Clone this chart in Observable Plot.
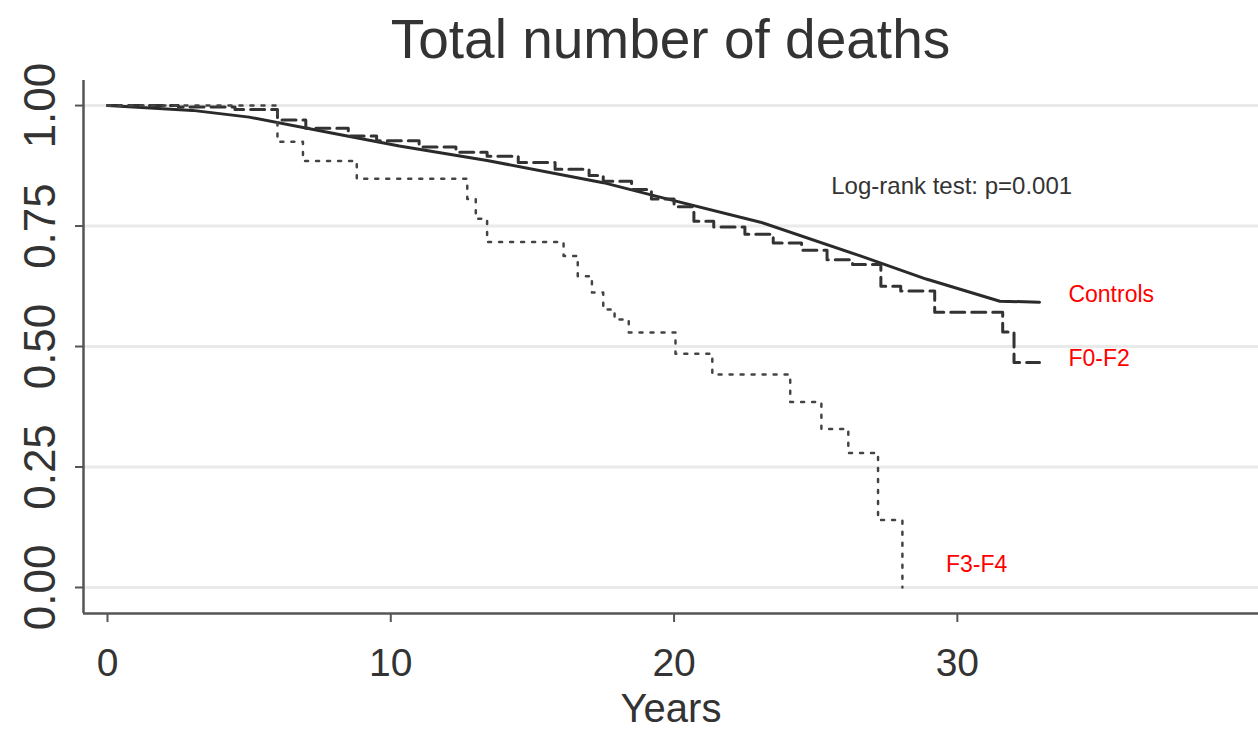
<!DOCTYPE html>
<html><head><meta charset="utf-8">
<script src="https://cdn.jsdelivr.net/npm/d3@7"></script>
<script src="https://cdn.jsdelivr.net/npm/@observablehq/plot@0.6"></script>
<style>
body{margin:0;background:#fff;width:1258px;height:731px;overflow:hidden;}
#title{height:70px;line-height:78px;font-family:"Liberation Sans",Arial,sans-serif;font-size:55px;color:#333;text-align:center;padding-left:83px;box-sizing:border-box;white-space:nowrap;overflow:visible;}
</style></head><body>
<div id="title">Total number of deaths</div>
<div id="chart"></div>
<script>
// Kaplan–Meier survival estimates
const controlsYears = [0, 3, 5, 8, 10.3, 13.4, 17.5, 19.5, 23.05, 26.6, 28.9, 31.5, 32.9];
const controlsSurv  = [1.0, 0.99, 0.976, 0.942, 0.916, 0.886, 0.84, 0.81, 0.758, 0.6875, 0.64, 0.594, 0.592];

const f02Years = [0, 2.5, 4.5, 6.0, 7.0, 8.5, 9.5, 11.0, 12.3, 13.4, 14.5, 15.8, 17.0, 17.5, 18.5, 19.2, 20.0, 20.7, 21.4, 22.5, 23.5, 24.5, 25.4, 26.3, 27.3, 28.0, 29.2, 31.6, 32.0, 32.9];
const f02Surv  = [1.0, 0.997, 0.992, 0.97, 0.953, 0.937, 0.927, 0.914, 0.903, 0.895, 0.882, 0.868, 0.855, 0.843, 0.826, 0.806, 0.79, 0.76, 0.748, 0.733, 0.715, 0.70, 0.68, 0.67, 0.625, 0.615, 0.571, 0.53, 0.467, 0.467];

const f34Years = [0, 6.0, 6.9, 8.8, 12.7, 13.0, 13.4, 16.1, 16.6, 17.1, 17.5, 17.9, 18.4, 20.05, 21.35, 24.1, 25.2, 26.15, 27.2, 28.06];
const f34Surv  = [1.0, 0.925, 0.885, 0.848, 0.806, 0.765, 0.717, 0.688, 0.646, 0.612, 0.577, 0.556, 0.529, 0.485, 0.442, 0.385, 0.329, 0.279, 0.14, 0.0];

const xTicks = [0, 10, 20, 30];
const xTickLabels = ["0", "10", "20", "30"];
const yTicks = [0, 0.25, 0.5, 0.75, 1];
const yTickLabels = ["0.00", "0.25", "0.50", "0.75", "1.00"];

const groupNames = ["Controls", "F0-F2", "F3-F4"];
const labelX = [33.92, 33.92, 29.6];
const labelY = [0.608, 0.475, 0.048];

const noteText = ["Log-rank test: p=0.001"];
const noteX = [29.8];
const noteY = [0.832];

const xDomain = [-0.847, 40.63];
const yDomain = [-0.054, 1.052];

const toRows = (xs, ys) => xs.map((x, i) => ({x, y: ys[i]}));
const controls = toRows(controlsYears, controlsSurv);
const f02 = toRows(f02Years, f02Surv);
const f34 = toRows(f34Years, f34Surv);

const sans = "'Liberation Sans',Arial,sans-serif";

const chart = Plot.plot({
  width: 1258,
  height: 661,
  marginTop: 10,
  marginBottom: 118,
  marginLeft: 83,
  marginRight: 0,
  x: {domain: xDomain},
  y: {domain: yDomain},
  style: {background: "white", overflow: "visible"},
  marks: [
    Plot.ruleY(yTicks, {stroke: "#eaeaea", strokeWidth: 3}),
    Plot.axisY({ticks: yTicks, tickSize: 8, tickFormat: () => "", label: null, stroke: "#555", strokeWidth: 2}),
    Plot.axisX({ticks: xTicks, tickSize: 9, tickFormat: () => "", label: null, stroke: "#555", strokeWidth: 2}),
    Plot.ruleX([xDomain[0]], {stroke: "#555", strokeWidth: 2.5}),
    Plot.ruleY([yDomain[0]], {stroke: "#555", strokeWidth: 2.5}),
    Plot.text(yTicks, {y: d => d, text: (d, i) => yTickLabels[i], frameAnchor: "left", dx: -43, rotate: -90,
      textAnchor: "middle", lineAnchor: "middle", fontSize: 44, fontFamily: sans, fill: "#333"}),
    Plot.text(xTicks, {x: d => d, text: (d, i) => xTickLabels[i], frameAnchor: "bottom", dy: 50,
      textAnchor: "middle", lineAnchor: "middle", fontSize: 39, fontFamily: sans, fill: "#333"}),
    Plot.text(["Years"], {text: d => d, frameAnchor: "bottom", dy: 96, lineAnchor: "middle",
      fontSize: 40, fontFamily: sans, fill: "#333"}),
    Plot.line(controls, {x: "x", y: "y", stroke: "#2a2a2a", strokeWidth: 3}),
    Plot.line(f02, {x: "x", y: "y", curve: "step-after", stroke: "#333", strokeWidth: 3, strokeDasharray: "14,7"}),
    Plot.line(f34, {x: "x", y: "y", curve: "step-after", stroke: "#444", strokeWidth: 2.5, strokeDasharray: "3,8"}),
    Plot.text(noteText, {x: (d, i) => noteX[i], y: (d, i) => noteY[i], text: d => d, textAnchor: "middle",
      lineAnchor: "middle", fontSize: 24, fontFamily: sans, fill: "#333"}),
    Plot.text(groupNames, {x: (d, i) => labelX[i], y: (d, i) => labelY[i], text: d => d, textAnchor: "start",
      lineAnchor: "middle", fontSize: 23, fontFamily: sans, fill: "#ff0000"})
  ]
});
document.getElementById("chart").appendChild(chart);
</script>
</body></html>
